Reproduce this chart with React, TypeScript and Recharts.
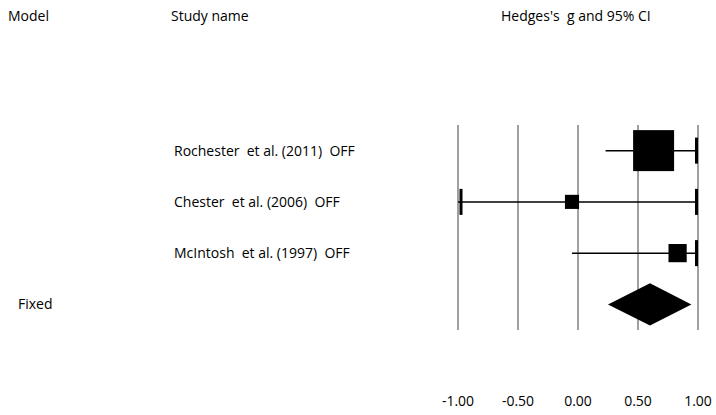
import { ComposedChart, Scatter, Area, XAxis, YAxis, CartesianGrid, ReferenceLine } from "recharts"

const studyNames = ["Rochester  et al. (2011)  OFF", "Chester  et al. (2006)  OFF", "McIntosh  et al. (1997)  OFF"]
const hedgesG = [0.63, -0.05, 0.83]
const lowerCI = [0.23, -1.0, -0.05]
const upperCI = [1.0, 1.0, 1.0]
const weights = [76, 9, 15]

const modelLabel = "Fixed"
const pooledG = 0.6
const pooledLower = 0.25
const pooledUpper = 0.945

const xTicks = [-1, -0.5, 0, 0.5, 1]
const headers = ["Model", "Study name", "Hedges's  g and 95% CI"]

const FONT = "'Open Sans', sans-serif"
const FS = 14
const pooledRow = studyNames.length + 1
const DIAMOND_HALF = 0.41

const boxData = hedgesG.map((g, i) => ({ x: g, y: i + 1, w: weights[i] }))
const capData = [
  ...lowerCI.map((v, i) => ({ x: v, y: i + 1, side: "left" })).filter((d) => d.x <= -1),
  ...upperCI.map((v, i) => ({ x: v, y: i + 1, side: "right" })).filter((d) => d.x >= 1),
]
const diamondData = [
  { x: pooledLower, band: [pooledRow, pooledRow] },
  { x: pooledG, band: [pooledRow - DIAMOND_HALF, pooledRow + DIAMOND_HALF] },
  { x: pooledUpper, band: [pooledRow, pooledRow] },
]

function RowTick(props: any) {
  const row = props.payload.value
  const isStudy = row <= studyNames.length
  return (
    <text
      x={isStudy ? 174 : 18}
      y={props.y}
      dy="0.35em"
      fontSize={FS}
      fontFamily={FONT}
      fill="#000"
      style={{ whiteSpace: "pre" }}
    >
      {isStudy ? studyNames[row - 1] : modelLabel}
    </text>
  )
}

const BoxShape = (props: any) => {
  const s = 4.7 * Math.sqrt(props.payload.w)
  return <rect x={props.cx - s / 2} y={props.cy - s / 2} width={s} height={s} fill="#000" />
}

const CapShape = (props: any) => {
  const left = props.payload.side === "left"
  return <rect x={left ? props.cx + 1.5 : props.cx - 3} y={props.cy - 13} width={3} height={26} fill="#000" />
}

export default function App() {
  return (
    <div style={{ position: "absolute", left: 0, top: 0, width: 716, height: 415, background: "#fff" }}>
      <svg width={716} height={40} style={{ position: "absolute", left: 0, top: 0 }}>
        <text x={8} y={21} fontSize={FS} fontFamily={FONT} fill="#000">{headers[0]}</text>
        <text x={171} y={21} fontSize={FS} fontFamily={FONT} fill="#000">{headers[1]}</text>
        <text x={501} y={21} fontSize={FS} fontFamily={FONT} fill="#000" style={{ whiteSpace: "pre" }}>
          {headers[2]}
        </text>
      </svg>
      <ComposedChart width={716} height={415} margin={{ top: 125, right: 18, bottom: 25, left: 398 }}>
        <CartesianGrid horizontal={false} stroke="#808080" strokeWidth={1.5} />
        <XAxis
          type="number"
          dataKey="x"
          domain={[-1, 1]}
          ticks={xTicks}
          allowDataOverflow
          axisLine={false}
          tickLine={false}
          tickSize={0}
          tickMargin={66}
          height={60}
          tickFormatter={(v: number) => v.toFixed(2)}
          tick={{ fill: "#000", fontSize: FS, fontFamily: FONT }}
        />
        <YAxis
          type="number"
          dataKey="y"
          domain={[0.5, 4.5]}
          ticks={[1, 2, 3, 4]}
          reversed
          allowDataOverflow
          axisLine={false}
          tickLine={false}
          width={60}
          tick={(p: any) => <RowTick {...p} />}
        />
        {studyNames.map((_, i) => (
          <ReferenceLine
            key={i}
            segment={[
              { x: lowerCI[i], y: i + 1 },
              { x: upperCI[i], y: i + 1 },
            ]}
            stroke="#000"
            strokeWidth={1.5}
          />
        ))}
        <Scatter data={boxData} shape={BoxShape} isAnimationActive={false} />
        <Scatter data={capData} shape={CapShape} isAnimationActive={false} />
        <Area
          data={diamondData}
          dataKey="band"
          type="linear"
          stroke="none"
          fill="#000"
          fillOpacity={1}
          dot={false}
          activeDot={false}
          isAnimationActive={false}
        />
      </ComposedChart>
    </div>
  )
}
